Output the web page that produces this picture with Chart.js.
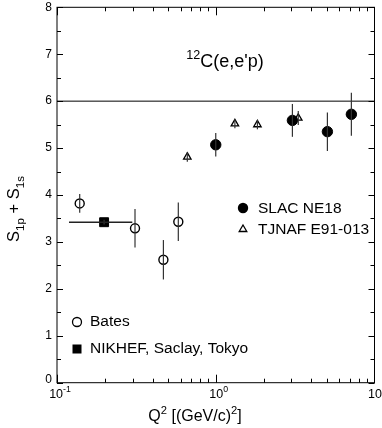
<!DOCTYPE html>
<html>
<head>
<meta charset="utf-8">
<script src="https://cdn.jsdelivr.net/npm/chart.js@4.4.0/dist/chart.umd.min.js"></script>
<style>
html, body { margin: 0; padding: 0; background: #fff; }
canvas { display: block; }
</style>
</head>
<body>
<canvas id="c" width="382" height="428"></canvas>
<script>
// data
var batesQ2 = [0.139, 0.31, 0.468, 0.581];
var batesS = [3.82, 3.29, 2.62, 3.43];
var batesErr = [0.2, 0.41, 0.42, 0.41];

var nikhefQ2 = [0.198];
var nikhefS = [3.42];
var nikhefErr = [0.05];
var nikhefQ2Lo = [0.119];
var nikhefQ2Hi = [0.298];

var slacQ2 = [1.0, 3.04, 5.05, 7.15];
var slacS = [5.07, 5.59, 5.35, 5.72];
var slacErr = [0.25, 0.35, 0.41, 0.46];

var tjnafQ2 = [0.662, 1.32, 1.83, 3.31];
var tjnafS = [4.81, 5.52, 5.50, 5.64];
var tjnafErr = [0.1, 0.1, 0.1, 0.15];

var limitQ2 = [0.1, 10];
var limitS = [6, 6];

var yTicks = [0, 1, 2, 3, 4, 5, 6, 7, 8];
var xDecades = [0.1, 1, 10];
var xDecadeExp = ['-1', '0', '1'];

var FONT = '"Liberation Sans", Arial, Helvetica, sans-serif';

function pts(xs, ys) {
  var out = [];
  for (var i = 0; i < xs.length; i++) out.push({x: xs[i], y: ys[i]});
  return out;
}

// text with super / subscripts
function richText(ctx, parts, x, y, size, align) {
  var w = 0;
  parts.forEach(function(p) {
    ctx.font = (p.s || p.b ? size * 0.7 : size) + 'px ' + FONT;
    p.w = ctx.measureText(p.t).width;
    w += p.w;
  });
  var cx = x;
  if (align == 'center') cx = x - w / 2;
  if (align == 'right') cx = x - w;
  ctx.textAlign = 'left';
  ctx.textBaseline = 'alphabetic';
  parts.forEach(function(p) {
    var dy = 0;
    if (p.s) dy = -size * 0.42;
    if (p.b) dy = size * 0.28;
    ctx.font = (p.s || p.b ? size * 0.7 : size) + 'px ' + FONT;
    ctx.fillText(p.t, cx, y + dy);
    cx += p.w;
  });
}

var frame = {
  id: 'frame',
  afterDatasetsDraw: function(chart) {
    var ctx = chart.ctx, a = chart.chartArea;
    var xs = chart.scales.x, ys = chart.scales.y;
    ctx.save();

    // error bars
    ctx.strokeStyle = '#333';
    ctx.lineWidth = 1.2;
    function vbars(qs, ss, es) {
      for (var i = 0; i < qs.length; i++) {
        var px = xs.getPixelForValue(qs[i]);
        ctx.beginPath();
        ctx.moveTo(px, ys.getPixelForValue(ss[i] - es[i]));
        ctx.lineTo(px, ys.getPixelForValue(ss[i] + es[i]));
        ctx.stroke();
      }
    }
    vbars(batesQ2, batesS, batesErr);
    vbars(nikhefQ2, nikhefS, nikhefErr);
    vbars(slacQ2, slacS, slacErr);
    vbars(tjnafQ2, tjnafS, tjnafErr);
    ctx.lineWidth = 1.6;
    ctx.strokeStyle = '#222';
    for (var i = 0; i < nikhefQ2.length; i++) {
      var py = ys.getPixelForValue(nikhefS[i]);
      ctx.beginPath();
      ctx.moveTo(xs.getPixelForValue(nikhefQ2Lo[i]), py);
      ctx.lineTo(xs.getPixelForValue(nikhefQ2Hi[i]), py);
      ctx.stroke();
    }

    // frame
    ctx.strokeStyle = '#000';
    ctx.lineWidth = 1;
    ctx.strokeRect(a.left, a.top, a.right - a.left, a.bottom - a.top);

    // y ticks (inside, both sides)
    for (var v = 0; v <= 8; v += 0.5) {
      var py = Math.round(ys.getPixelForValue(v)) + 0.5;
      var len = (v % 1 == 0) ? 6 : 4;
      ctx.beginPath();
      ctx.moveTo(a.left, py); ctx.lineTo(a.left + len, py);
      ctx.moveTo(a.right, py); ctx.lineTo(a.right - len, py);
      ctx.stroke();
    }
    // x ticks
    for (var d = 0; d < xDecades.length - 1; d++) {
      for (var k = 1; k <= 9; k++) {
        var q = xDecades[d] * k;
        var px = Math.round(xs.getPixelForValue(q)) + 0.5;
        var len = k == 1 ? 8 : 4;
        ctx.beginPath();
        ctx.moveTo(px, a.bottom); ctx.lineTo(px, a.bottom - len);
        ctx.moveTo(px, a.top); ctx.lineTo(px, a.top + len);
        ctx.stroke();
      }
    }

    // tick labels
    ctx.fillStyle = '#000';
    ctx.font = '12px ' + FONT;
    ctx.textAlign = 'right';
    ctx.textBaseline = 'middle';
    yTicks.forEach(function(t) {
      var py = ys.getPixelForValue(t);
      if (t == 0) py -= 3;
      ctx.fillText(String(t), a.left - 5, py);
    });
    xDecades.forEach(function(q, i) {
      richText(ctx, [{t: '10'}, {t: xDecadeExp[i], s: true}], xs.getPixelForValue(q) + 3, a.bottom + 15, 12.5, 'center');
    });

    // axis titles
    richText(ctx, [{t: 'Q'}, {t: '2', s: true}, {t: ' [(GeV/c)'}, {t: '2', s: true}, {t: ']'}], 195, 421, 16, 'center');
    ctx.save();
    ctx.translate(19, 209);
    ctx.rotate(-Math.PI / 2);
    richText(ctx, [{t: 'S'}, {t: '1p', b: true}, {t: ' + S'}, {t: '1s', b: true}], 0, 0, 16.5, 'center');
    ctx.restore();

    // reaction label
    richText(ctx, [{t: '12', s: true}, {t: 'C(e,e\'p)'}], 225, 67, 18, 'center');

    // legend
    ctx.font = '15.5px ' + FONT;
    ctx.textAlign = 'left';
    ctx.textBaseline = 'middle';
    ctx.fillText('SLAC NE18', 258, 209);
    ctx.fillText('TJNAF E91-013', 258, 230);
    ctx.fillText('Bates', 90, 322);
    ctx.fillText('NIKHEF, Saclay, Tokyo', 90, 349);
    ctx.lineWidth = 1.3;
    ctx.beginPath(); ctx.arc(243, 208, 5.2, 0, Math.PI * 2); ctx.fill();
    ctx.beginPath();
    ctx.moveTo(243, 225); ctx.lineTo(246.8, 231.5); ctx.lineTo(239.2, 231.5); ctx.closePath();
    ctx.stroke();
    ctx.beginPath(); ctx.arc(77, 322, 4.5, 0, Math.PI * 2); ctx.stroke();
    ctx.fillRect(72.5, 344.5, 9, 9);

    ctx.restore();
  }
};

new Chart(document.getElementById('c').getContext('2d'), {
  type: 'scatter',
  data: {
    datasets: [
      {
        label: 'limit', data: pts(limitQ2, limitS), showLine: true,
        borderColor: '#000', borderWidth: 1, pointRadius: 0
      },
      {
        label: 'Bates', data: pts(batesQ2, batesS), pointStyle: 'circle',
        pointRadius: 4.5, pointBackgroundColor: '#fff', pointBorderColor: '#000', pointBorderWidth: 1.4
      },
      {
        label: 'NIKHEF, Saclay, Tokyo', data: pts(nikhefQ2, nikhefS), pointStyle: 'rect',
        pointRadius: 6.3, pointBackgroundColor: '#000', pointBorderColor: '#000', pointBorderWidth: 1
      },
      {
        label: 'SLAC NE18', data: pts(slacQ2, slacS), pointStyle: 'circle',
        pointRadius: 5.2, pointBackgroundColor: '#000', pointBorderColor: '#000', pointBorderWidth: 1
      },
      {
        label: 'TJNAF E91-013', data: pts(tjnafQ2, tjnafS), pointStyle: 'triangle',
        pointRadius: 4.3, pointBackgroundColor: '#fff', pointBorderColor: '#000', pointBorderWidth: 1.3
      }
    ]
  },
  options: {
    responsive: false,
    animation: false,
    devicePixelRatio: 1,
    layout: { padding: { left: 57, right: 7.5, top: 7.3, bottom: 45.3 } },
    plugins: { legend: { display: false }, tooltip: { enabled: false } },
    scales: {
      x: { type: 'logarithmic', min: 0.1, max: 10, display: false },
      y: { type: 'linear', min: 0, max: 8, display: false }
    }
  },
  plugins: [frame]
});
</script>
</body>
</html>
